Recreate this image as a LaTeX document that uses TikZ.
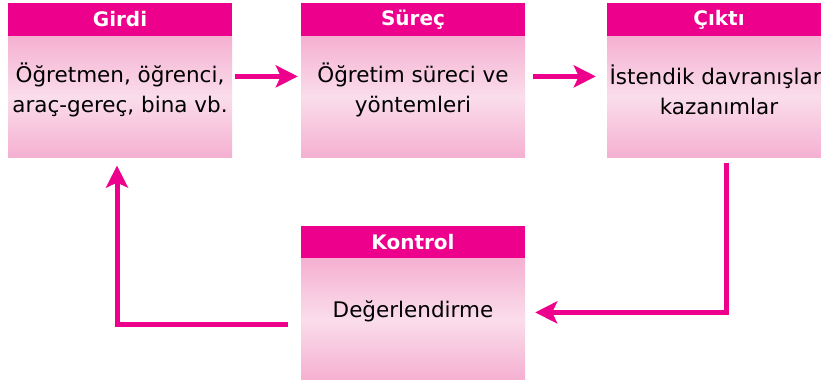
\documentclass[tikz,border=0pt]{standalone}
\usepackage{fontspec}
\setmainfont{DejaVu Sans}
\usetikzlibrary{positioning,arrows.meta}
\definecolor{headpink}{HTML}{EC008C}
\definecolor{bodypink}{HTML}{F5B0D1}
\definecolor{bodylight}{HTML}{FADDEB}

\begin{document}
\begin{tikzpicture}[x=1pt,y=-1pt,line cap=rect]
  \tikzstyle{head}=[fill=headpink,text=white,font=\fontsize{20}{24}\selectfont\bfseries,minimum width=224pt,minimum height=33pt,inner sep=0pt];
  \tikzstyle{body}=[top color=bodypink,bottom color=bodypink,middle color=bodylight,minimum width=224pt,minimum height=121pt,inner sep=0pt];
  \tikzstyle{txt}=[font=\fontsize{21.5}{30}\selectfont,align=center,inner sep=0pt];
  \tikzstyle{flow}=[headpink,line width=5pt,-{Stealth[length=22pt,width=22pt,inset=5pt]}];

  \clip (0,0) rectangle (821,381);

  % boxes
  \node[head] (gH) at (120,19.5) {Girdi};
  \node[body,below=0pt of gH] (gB) {};
  \node[txt,yshift=7pt] (gT) at (gB) {Öğretmen, öğrenci,\\araç-gereç, bina vb.};
  \node[head] (sH) at (413,19.5) {Süreç};
  \node[body,below=0pt of sH] (sB) {};
  \node[txt,yshift=7pt] (sT) at (sB) {Öğretim süreci ve\\yöntemleri};
  \node[head] (cH) at (719,19.5) {Çıktı};
  \node[body,below=0pt of cH] (cB) {};
  \node[txt,yshift=7pt] (cT) at (cB) {İstendik davranışlar,\\kazanımlar};
  \node[head] (kH) at (413,242) {Kontrol};
  \node[body,below=0pt of kH] (kB) {};
  \node[txt,yshift=8pt] (kT) at (kB) {Değerlendirme};

  % arrows
  \draw[flow] ([xshift=5pt,yshift=20.5pt]gB.east) -- ([xshift=-3pt,yshift=20.5pt]sB.west);
  \draw[flow] ([xshift=10pt,yshift=20.5pt]sB.east) -- ([xshift=-11pt,yshift=20.5pt]cB.west);
  \draw[flow] ([xshift=7pt,yshift=-8pt]cB.south) |- ([xshift=10pt,yshift=7pt]kB.east);
  \draw[flow] ([xshift=-15pt,yshift=-5pt]kB.west) -| ([xshift=-3pt,yshift=-8pt]gB.south);
\end{tikzpicture}
\end{document}
